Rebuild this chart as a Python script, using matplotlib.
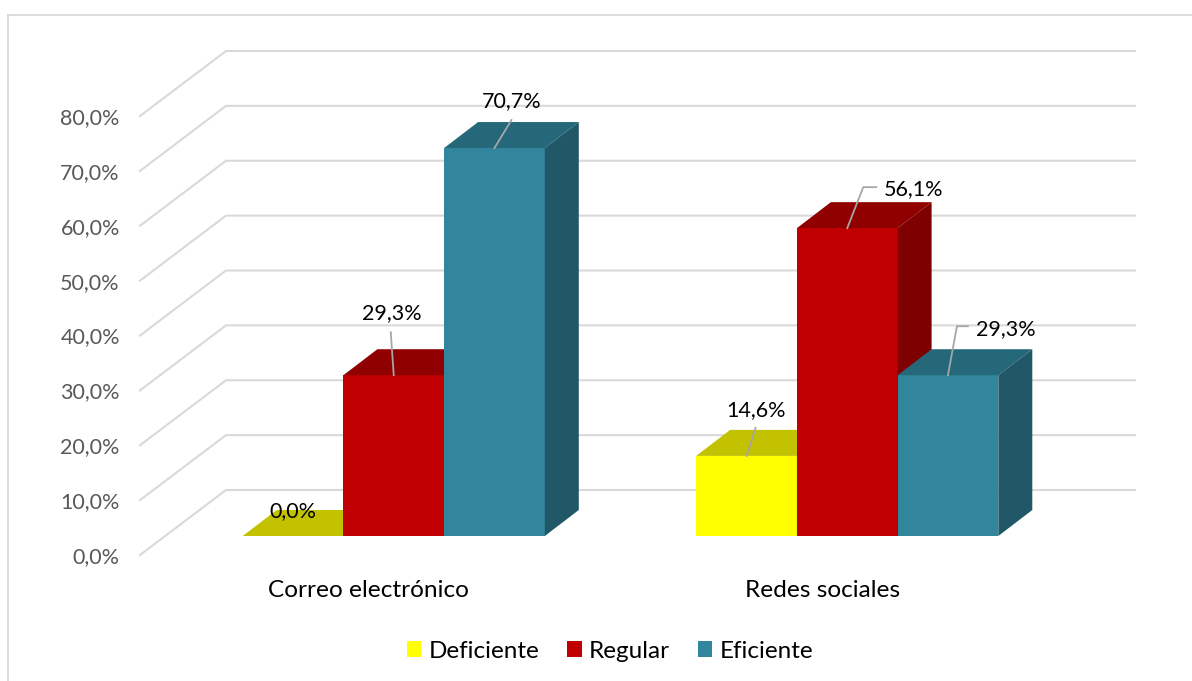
import matplotlib
matplotlib.use('Agg')  # no display here
import matplotlib.pyplot as plt
from matplotlib.lines import Line2D
from matplotlib.patches import Polygon
from matplotlib.transforms import ScaledTranslation

categories = ["Correo electrónico", "Redes sociales"]
series_names = ["Deficiente", "Regular", "Eficiente"]
deficiente = [0.0, 14.6]
regular = [29.3, 56.1]
eficiente = [70.7, 29.3]
y_ticks = [0, 10, 20, 30, 40, 50, 60, 70, 80]

W, H = 1192, 681
DPI = 100
plt.rcParams['font.family'] = ['Lato', 'DejaVu Sans']

# colours: front, top, side
colors = [("#FFFF00", "#C2C200", "#A8A800"),
          ("#C00000", "#900000", "#7F0000"),
          ("#31859C", "#25687A", "#205867")]

fig = plt.figure(figsize=(W / DPI, H / DPI), dpi=DPI)

# axes = the plane of the bar fronts, in pixels of the picture
left, right, y_zero, y_80 = 167, 1074, 536, 97
ax = fig.add_axes([left / W, 1 - y_zero / H, (right - left) / W, (y_zero - y_80) / H])
ax.set_xlim(0, 2)
ax.set_ylim(0, 80)
ax.patch.set_visible(False)
for s in ax.spines.values():
    s.set_visible(False)

px_x = 2 / (right - left)      # data units per pixel
px_y = 80 / (y_zero - y_80)

# fake 3d depth in data units
wall_dx, wall_dy = 59 * px_x, 46 * px_y
floor_dx, floor_dy = -27 * px_x, -19 * px_y
right_dx = 61 * px_x
bar_dx, bar_dy = 34 * px_x, 26 * px_y
bar_w = 100.7 * px_x

# gridlines on wall and side wall
for t in y_ticks:
    ax.plot([floor_dx, wall_dx, 2 + right_dx],
            [t + floor_dy, t + wall_dy, t + wall_dy],
            color="#D9D9D9", lw=1.5, clip_on=False, zorder=1, solid_joinstyle='miter')

# bars
all_values = [deficiente, regular, eficiente]
centers = [0.5, 1.5]
for i, vals in enumerate(all_values):
    front, top, side = colors[i]
    xs = [c + (i - 1) * bar_w for c in centers]
    ax.bar(xs, vals, width=bar_w, color=front, label=series_names[i], zorder=2 + i, clip_on=False)
    for x, v in zip(xs, vals):
        x0, x1 = x - bar_w / 2, x + bar_w / 2
        ax.add_patch(Polygon([(x0, v), (x1, v), (x1 + bar_dx, v + bar_dy), (x0 + bar_dx, v + bar_dy)],
                             closed=True, fc=top, ec='none', zorder=2 + i, clip_on=False))
        ax.add_patch(Polygon([(x1, 0), (x1 + bar_dx, bar_dy), (x1 + bar_dx, v + bar_dy), (x1, v)],
                             closed=True, fc=side, ec='none', zorder=2 + i, clip_on=False))

# data labels, offsets in pixels from the middle of the bar front top edge
label_style = [
    # series, category, label centre offset, leader points
    (0, 0, (-0.5, 25), None),
    (1, 0, (-2, 62), [(0, 0), (-3, 43)]),
    (2, 0, (17, 47), [(0, 0), (17, 28)]),
    (0, 1, (9, 46), [(0, 0), (9, 28)]),
    (1, 1, (66, 39), [(0, 0), (16, 41), (29, 41)]),
    (2, 1, (58, 46), [(0, 0), (9, 49), (20, 49)]),
]
for i, j, off, leader in label_style:
    x = centers[j] + (i - 1) * bar_w
    v = all_values[i][j]
    if leader:
        ax.plot([x + p[0] * px_x for p in leader], [v + p[1] * px_y for p in leader],
                color="#A6A6A6", lw=1.3, zorder=8, clip_on=False)
    ax.annotate(f"{v:.1f}%".replace(".", ","), (x, v), xytext=(off[0] * 0.72, off[1] * 0.72),
                textcoords='offset points', ha='center', va='center',
                fontsize=15.5, color="black", zorder=9)

# axis labels sit on the front edge of the floor
ax.set_yticks(y_ticks)
ax.set_yticklabels([f"{t:.1f}%".replace(".", ",") for t in y_ticks], fontsize=15.5, color="#595959")
ax.tick_params(axis='y', length=0, pad=34)
shift = ScaledTranslation(0, -19 / DPI, fig.dpi_scale_trans)
for lab in ax.get_yticklabels():
    lab.set_transform(lab.get_transform() + shift)

ax.set_xticks(centers)
ax.set_xticklabels(categories, fontsize=17.6, color="black")
ax.tick_params(axis='x', length=0, pad=32)
shift_x = ScaledTranslation(-25 / DPI, 0, fig.dpi_scale_trans)
for lab in ax.get_xticklabels():
    lab.set_transform(lab.get_transform() + shift_x)

ax.legend(loc='center', bbox_to_anchor=(610 / W, 1 - 651 / H), bbox_transform=fig.transFigure,
          ncol=3, frameon=False, fontsize=17.5, handlelength=0.6, handleheight=0.6,
          handletextpad=0.29, columnspacing=1.15)

# outer frame of the chart
frame = dict(color="#D9D9D9", lw=1.3, transform=fig.transFigure)
fig.add_artist(Line2D([8 / W, 8 / W], [0, 1 - 15 / H], **frame))
fig.add_artist(Line2D([8 / W, 1], [1 - 15 / H, 1 - 15 / H], **frame))

fig.savefig("out.png", dpi=DPI)
